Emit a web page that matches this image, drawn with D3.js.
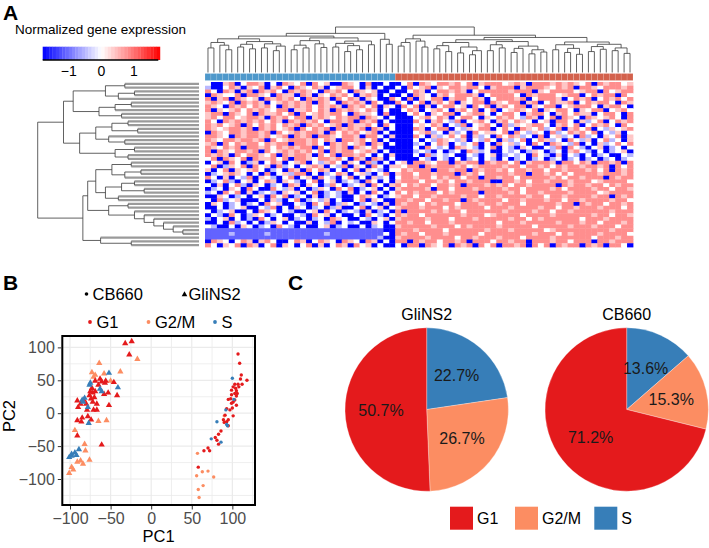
<!DOCTYPE html>
<html>
<head>
<meta charset="utf-8">
<script src="https://cdn.jsdelivr.net/npm/d3@7/dist/d3.min.js"></script>
<style>
  body { margin: 0; background: #fff; }
  text { font-family: "Liberation Sans", Arial, Helvetica, sans-serif; }
</style>
</head>
<body>
<svg id="fig" width="709" height="548"></svg>
<script>
// ---------------- data ----------------
// heatmap cells, one letter per cell (see heatLevels), left block | right block
var heatLevels = { B: -1.8, m: -1.1, b: -0.5, w: 0, p: 0.4, r: 0.8, R: 0.95 };
var heatRows = [
  "wBBprBwr rpBwBrpw rBrwpBBr pwBrBBwB | BwrBrpwr rprwrBpr rrwprpBr rrprprpw rBrprrwp",
  "bBBwrpBp wrBprwBr pwrpBwpr rwBpBwBB | wBrwprBp wrrprrwB prrrBprr rpwrprBr rpwrrrpr",
  "rwBrpBpr BrprwBrp rpwBrprw BrpwpBBw | BBwrpBwr rprpBwrr rrrprrrB pwrrrrwp rrBrwprr",
  "BrpwwrBr rpwBrppB rpBpwrpr wBprpBwB | BwBrpwBp rwrrrpBw rrrrwBrp rrrwprrB wrprrBrw",
  "rBprBrpw pBrprprw BrprpBrw rpBpwBBr | wBrBpwrr BprrwrpB wrrrprBw rrrpBwrp rBwrprwr",
  "prpwrBrp rpBwprpr prBrpwBr prpBrwBB | rwBwrBpr wrBpwrrB rpwrrBpr BwrpprBw rprrwBrp",
  "rpwBrprw rprwBrpr prwrprpB rprwrBpw | BrwrBpBw rrwpBrwr BprwrrBp wrrBwprr rwBprrwB",
  "rBpwprwr prpwrrBp prwrpBrp rpwrpBwB | BwrpBwpr wBprwrBw rBwprpwr BpwrrwBp wrrBwprw",
  "prrBrpwr BrpprwrB rwprprrw BrppwBrB | BBwrwBpw rrBwprrw BwrrwBpr rwBprwrp pBwrrwBr",
  "prwrrwpr rpBrprwr rBprpwrp rrBrpwBw | BBBwprwr pBwrrwBp wrprwbrp BwrBrpwB rpwprwBr",
  "rwBrprpr prwrpBrp rprwBrrp rBrprBwB | BBBrwBpr wbrBwprw BprwrpwB wpBrrwBp bwrBwrpr",
  "rprwprBr wrprwrpr BrprwprB rpprwBrw | BBBwpwrp BwbrBwpr wBrbpwpr rwBprwrB wrprwBrw",
  "rpwprrpr BrprwprB rwrprBrp rprBrpBw | BBBrpBwr rBwbpwrr BwrwBrpw rbwrBprw rBwbpwpr",
  "Brpwrrpr rprBrwpr prrpBrwr prwprBwB | BBBwprbw BpbwBrwp pwrBrwbp wBrbwrpr wrBwbpBw",
  "rrpwBrpr rprwprBr prBrrpwr rpBrrwBp | BBBrwBpb wrwrBpbw BrwrpbwB rBwpbwBr bwBpwrBp",
  "rpwrrprr prBrwprr rprwrpBr rprwrBwB | BBBwBwbr pwbpBwbr wBpbwrBw rpbwBrwb pBwrbwBp",
  "prBrwrpr rwrprrBr rprwBrpr wprBrpBw | BBBbwBwr pBwbwrBw BrwpbwBr wBrpwbrB wBpbwrwr",
  "rpwrprBr rprwrprp rrBrwrpr BrpwrwBB | BBBwBrwb wBrpwbBw rBwbBpwB BwbrBrwb BwpBbwBw",
  "rBrpwrrp rBrwprpr prwrBrpr rwprpBwB | BBBbwbBw BbwBrpbw BBwbwBbp wBbwBprw bBwBbwpB",
  "rprpBrwr rpwrBrpr rpBrwrBr rprwBwBp | BBBwBrbw bwBBwbBw pBbwbwBr wbBpBwbB wBbwBBwb",
  "wrBrpwrB rpprwrBr rpwrrprw BrpBrpBw | BBBBwbBw bBwBbwBw bBwBbwBb wBbwBbwB bwBbwBbw",
  "BwpBrwBb pBwrpBwp rBwbprwB pwBrbBwB | wpBrrpwr rBrprrBr prrwrBpr rrpBrrwr pBrrprBr",
  "wrBbpwrB rwpBrbwB wprpBwbr BpwBrwBp | pwrrBrpr rrprwprr rrprrwrr prwrprrp rrprBrwr",
  "pBwrBpwp rwBbwBrp BrwrpBwB wrBpwbBw | wrprrrBr rprrBrpr rprwrrpr rwrrprrr prwrBrpr",
  "BbwprpwB wBrBwpbr rBwBbwrp BwpbBwrB | prrwrrpr rrBrprwr rrrprrBr rprwrwrr rrprrrpr",
  "rwBpBwbr BpwbBwrB wpBrwbBw rBwBpbwB | wrrprrwr prrwrrBr rprrwrrr rrprwrrp rrrBrprr",
  "BbwrbBwp BwrpBpwb BwrBwpBb wbBrwBwB | prrrwrrp rwrrprrr BBrrprwr rprrrprr rwprrrrw",
  "wBpBwrbB pwBbwBrp BpwBbrwB bwpBrwBp | rwrprrwr rprBrrrp rprwrrpr rrrBrprr prrwrprr",
  "BbwBpwBr wBBrwbpB wBbpwBrw rBbwpBwB | prrrrpBr rwrrrprr rrprrwrr rrprwrrr rprrwrrp",
  "bwBrwrBp BbwbBpwp BwrBbwbB pBwBrwBw | rwrprrrw rprrrrBr rrrprwrr prrrrprr rrwprrrr",
  "BBpwBbwB wpBrwrBb wBpBbwbB BwrpwBbw | prrwrrpr rrrprrwr rprrrrpr rwrrprrr rprrBrpr",
  "wBrbwpBB BwBpbBwr BbwbpBwB BwrBpwBB | rrprrwrr prrBrprr rrwrrprr rprrwrrp rrrrprrw",
  "BpwBbwBb wBrwpBBw bBrwrBbp wBbwbBpB | rprrwrpr rrwrrrpr rprrrwrr rrrprrBr prrwrrpr",
  "BBwBbwpB BwbrBwBp wBbwBbpB BwrBwpBw | prrrprrr wrprrrrw rrrprrrr prrwrrpr rrprrrwr",
  "wBbwpBBw BrpwBwbB BwpBrwBb wbBpBbwB | rBrrrrpr prrwrrrr rrprrrrp rrwrrprr rrrrprrr",
  "BwbBrwBb pwBbwBBw bBrwpBwB BwBrwbBw | rprrwrrr rrrprrrw prrrrwrr rrprrrrr rprrwrrp",
  "bBwpBwBb BrwBwpBb wBbwBrpw BBwbBwpB | prrrrprr rwrrrprr rrrprrwr prrrrrrw rrrprrrr",
  "BBwBrbwB wBbpwBwB BpBwbrBw bwBBpwBw | rrprrwrr rprrrrrr rwrrrprr rrrprrrp rrwrrrpr",
  "wbBBwBpw BbwBrwbB wBBwpBbw BBwBbwBB | prrrrrpr rrwrprrr rprrrrrw rrrrrprr rprrrwrr",
  "mmmmmmmm mmmmmmmm mmmmmmmm mmmmmmBB | rrrprrrr wrrrrrrp rrrprrrr rwprrrrr rrrrprrr",
  "mmmmbmmm mmbmmmmm mmmmbmmm mmmmmmwB | rprrwrrr prrrrrwr rrrrrrrp rrrwrprr rrprrrrw",
  "mmmmmmmm mmmmmmmm mmmmmmmm mmmmmbBB | prrrrprr rrwrrprr rprrrwrr rrprrrrr rwrrrprr",
  "BrpwBwrp BprwBBwr pBwrpwBr pwBrpBwB | rrBrprrw rrprBrrr wrrprrBr rrprrwrr rBrrprrr",
  "rwBpwrBr pBwrBpwB wrBpBwrp BrwpBwBB | wBrrBrpw rBrprBrw rBrrprBr wrBrprrB rprBrrwB"
];
var columnGroupSizes = [32, 40];
var columnGroupColors = ["#4e98cb", "#d3614c"];

// dendrograms: "." leaf, "(...)h" merge at height h
var colTreeLeft = "((" +
  "(((..)5.4(.(..)5)6)6.6(((..)5.6(..)5.2)6.2((..)5.4((..)4.8.)5.8)6.3)6.8)7.4" +
  "((((..)5(..)5.4)6(.(..)5.5)6.3)7(((..)5.6((..)4.6(..)5)5.9)6.4(..)6.1)6.9)7.6" +
  ")8" + "(.(..)6.2)7.3" + ")8.6";
var colTreeRight = "(" +
  "(((..)5.8.)6.6(.(..)5.6)6.9)7.4" +
  "((" + "(((..)5.2(..)4.6)5.9((..)4.3((..)3.9.)4.8)5.6)6.6" +
  "(((..)4.8(..)5.4)6.1(((..)4.4.)5.3((..)4.1(..)4.5)5)5.8)6.8" + ")7.2" +
  "(((..)5((..)4.4(..)4)5.3)6.1(((..)4.6(..)5.1)5.7((..)4.8(..)4.2)5.4)6.2)6.7" +
  ")7.7" + ")8.2";
var colTree = "(" + colTreeLeft + colTreeRight + ")10";

var rowTreeTop = "(" +
  "(((..)4.6((..)4.)5)5.8(((..)4.2.)5.2(..)4.8)6.2)7.8" +
  "((((..)4.4(..)3.8)5.4(.(..)4.6)5.6)6.4((..)4(..)4.4)5.2)7.4" + ")8.4";
var rowTreeBottom = "((" +
  "(((..)4.2((..)3.6.)4.6)5.4(((..)4(..)3.4)4.8(..)5)5.8)6.4" +
  "((..)4.4(.(.(.(.(.(..)1)1.6)2.2)2.8)3.4)4)5.6" + ")6.9" +
  "(.(..)4.2)6.1" + ")7.2";
var rowTree = "(" + rowTreeTop + rowTreeBottom + ")10";

var legendTicks = [-1, 0, 1];

// PCA (PC1, PC2) per cell line and phase
var phases = ["G1", "G2/M", "S"];
var phaseColors = { "G1": "#e41a1c", "G2/M": "#fc8d62", "S": "#377eb8" };
var gliG1 = [[-32,106],[-24,109],[-27,89],[-63,52],[-56,49],[-46,47],[-69,49],[-73,38],[-69,33],[-58,29],
  [-53,31],[-42,27],[-76,27],[-74,22],[-91,19],[-87,14],[-80,14],[-72,17],[-52,12],[-90,9],
  [-71,5],[-67,5],[-78,-5],[-91,-11],[-86,-13],[-74,-10],[-91,-34],[-61,-48],[-72,31],[-75,33],
  [-65,43],[-70,24],[-57,46],[-83,20],[-67,14],[-79,5],[-85,-7],[-61,48]];
var gliG2M = [[-17,82],[-64,76],[-73,62],[-38,63],[-58,60],[-71,55],[-50,49],[-65,-12],[-55,-11],[-94,-26],
  [-82,-47],[-81,-57],[-76,-71],[-87,-72],[-84,-77],[-91,-74],[-98,-82],[-101,-91],[-69,58],[-96,-86]];
var gliS = [[-52,61],[-76,43],[-41,39],[-63,37],[-82,23],[-84,17],[-78,9],[-77,-15],[-89,-55],[-94,-60],
  [-98,-65],[-92,-64],[-101,-67],[-75,46],[-61,33],[-85,20],[-98,-62]];
var cbG1 = [[107,90],[109,76],[111,58],[118,50],[103,44],[107,44],[112,44],[101,40],[99,35],[105,34],
  [103,30],[99,28],[105,26],[95,21],[101,17],[105,12],[93,7],[101,-4],[91,-3],[89,-10],
  [93,-13],[95,-19],[86,-27],[83,-32],[79,-37],[81,-41],[83,-47],[70,-53],[72,-57],[65,-57],
  [58,-82],[99,15],[103,20],[97,5],[95,-10],[90,-14],[108,40],[110,52],[104,38],[98,22],[106,30],[100,8]];
var cbG2M = [[90,-4],[57,-61],[63,-89],[70,-88],[56,-95],[77,-97],[64,-110],[58,-116],[59,-128]];
var cbS = [[100,53],[102,21],[92,5],[81,-13],[94,-19],[74,-39],[86,-44],[93,-17]];
var pcTicks = [-100, -50, 0, 50, 100];

// pie charts: percentage per phase, clockwise from 12 o'clock (S, G2/M, G1)
var pieNames = ["GliNS2", "CB660"];
var pieS = [22.7, 13.6];
var pieG2M = [26.7, 15.3];
var pieG1 = [50.7, 71.2];

// ---------------- drawing ----------------
var svg = d3.select("#fig");

function label(txt, x, y, size, weight) {
  return svg.append("text").attr("x", x).attr("y", y)
    .attr("font-size", size).attr("font-weight", weight || "normal").text(txt);
}

// ===== A: heatmap =====
label("A", 3, 20, 21, "bold");
label("Normalized gene expression", 15, 34, 13.5);

var heatColor = d3.scaleLinear().domain([-1.8, 0, 1.8]).range(["#0000ff", "#ffffff", "#ff0000"]).clamp(true);
var legX = d3.scaleLinear().domain([-1.8, 1.75]).range([42.7, 158.3]);
var legSteps = d3.range(-1.8, 1.75, 0.1);
svg.append("g").selectAll("rect").data(legSteps).join("rect")
  .attr("x", function (d) { return legX(d); }).attr("y", 46.7)
  .attr("width", legX(0.1) - legX(0) + 0.3).attr("height", 13.3)
  .attr("fill", function (d) { return heatColor(d + 0.05); });
svg.append("line").attr("x1", 42.7).attr("x2", 158.3).attr("y1", 60).attr("y2", 60)
  .attr("stroke", "#000").attr("stroke-width", 1.4);
svg.append("g").selectAll("text").data(legendTicks).join("text")
  .attr("x", function (d) { return legX(d); }).attr("y", 76)
  .attr("text-anchor", "middle").attr("font-size", 14)
  .text(function (d) { return d < 0 ? "\u2212" + Math.abs(d) : d; });

var cells = [];
heatRows.forEach(function (row, i) {
  row.replace(/[ |]/g, "").split("").forEach(function (c, j) {
    cells.push({ row: i, col: j, v: heatLevels[c] });
  });
});
var nRows = heatRows.length, nCols = d3.sum(columnGroupSizes);
var hx = d3.scaleBand().domain(d3.range(nCols)).range([205, 633]);
var hy = d3.scaleBand().domain(d3.range(nRows)).range([82, 247]);

svg.append("g").selectAll("rect").data(cells).join("rect")
  .attr("x", function (d) { return hx(d.col); }).attr("y", function (d) { return hy(d.row); })
  .attr("width", hx.bandwidth() + 0.4).attr("height", hy.bandwidth() + 0.4)
  .attr("fill", function (d) { return heatColor(d.v); });

// column annotation bar
var colGroup = [];
columnGroupSizes.forEach(function (n, g) { for (var k = 0; k < n; k++) colGroup.push(g); });
svg.append("g").selectAll("rect").data(colGroup).join("rect")
  .attr("x", function (d, i) { return hx(i); }).attr("y", 73.5)
  .attr("width", hx.bandwidth()).attr("height", 7)
  .attr("fill", function (d) { return columnGroupColors[d]; })
  .attr("stroke", "#fff").attr("stroke-opacity", 0.35).attr("stroke-width", 0.4);

function parseTree(str) {
  var i = 0;
  function node() {
    if (str[i] === ".") { i++; return { h: 0 }; }
    i++;
    var kids = [];
    while (str[i] !== ")") kids.push(node());
    i++;
    var m = /^\d+(\.\d+)?/.exec(str.slice(i));
    i += m[0].length;
    return { h: +m[0], children: kids };
  }
  return d3.hierarchy(node());
}

function layoutTree(root, leafPos) {
  root.leaves().forEach(function (d, k) { d.pos = leafPos(k); });
  root.eachAfter(function (d) {
    if (d.children) d.pos = (d.children[0].pos + d.children[d.children.length - 1].pos) / 2;
  });
  return root;
}

// top dendrogram (columns)
var colRoot = layoutTree(parseTree(colTree), function (k) { return hx(k) + hx.bandwidth() / 2; });
var ch = d3.scaleLinear().domain([0, 10]).range([72.5, 27]);
var gTop = svg.append("g").attr("stroke", "#3a3a3a").attr("stroke-width", 0.8).attr("fill", "none");
colRoot.descendants().forEach(function (d) {
  if (d.parent) {
    gTop.append("line").attr("x1", d.pos).attr("x2", d.pos)
      .attr("y1", ch(d.data.h)).attr("y2", ch(d.parent.data.h));
  }
  if (d.children) {
    gTop.append("line").attr("x1", d.children[0].pos).attr("x2", d.children[d.children.length - 1].pos)
      .attr("y1", ch(d.data.h)).attr("y2", ch(d.data.h));
  }
});

// left dendrogram (rows)
var rowRoot = layoutTree(parseTree(rowTree), function (k) { return hy(k) + hy.bandwidth() / 2; });
var rh = d3.scaleLinear().domain([0, 10]).range([199, 37.7]);
var gLeft = svg.append("g").attr("fill", "none");
rowRoot.descendants().forEach(function (d) {
  if (d.parent) {
    gLeft.append("line").attr("y1", d.pos).attr("y2", d.pos)
      .attr("x1", rh(d.data.h)).attr("x2", rh(d.parent.data.h))
      .attr("stroke", d.children ? "#3a3a3a" : "#9a9a9a")
      .attr("stroke-width", d.children ? 0.8 : 2.3);
  }
});
rowRoot.descendants().forEach(function (d) {
  if (d.children) {
    gLeft.append("line").attr("x1", rh(d.data.h)).attr("x2", rh(d.data.h))
      .attr("y1", d.children[0].pos).attr("y2", d.children[d.children.length - 1].pos)
      .attr("stroke", "#3a3a3a").attr("stroke-width", 0.8);
  }
});

// ===== B: PCA scatter =====
label("B", 3, 290, 21, "bold");

var px = d3.scaleLinear().domain([-109.5, 127.9]).range([62.3, 255]);
var py = d3.scaleLinear().domain([-139.5, 117.3]).range([505, 336]);
var tri = d3.symbol().type(d3.symbolTriangle).size(17);

// legend
svg.append("circle").attr("cx", 86.5).attr("cy", 294).attr("r", 1.8).attr("fill", "#000");
label("CB660", 92.5, 299.5, 16.5);
svg.append("path").attr("d", d3.symbol().type(d3.symbolTriangle).size(14)())
  .attr("transform", "translate(184.5,294.5)").attr("fill", "#000");
label("GliNS2", 188.5, 299.5, 16.5);
var legPhaseX = [90, 148.5, 215];
phases.forEach(function (ph, k) {
  svg.append("circle").attr("cx", legPhaseX[k]).attr("cy", 322).attr("r", 1.9).attr("fill", phaseColors[ph]);
  label(ph, legPhaseX[k] + 6.5, 327.5, 16.5);
});

var gPlot = svg.append("g");
gPlot.append("rect").attr("x", 62.3).attr("y", 336).attr("width", 255 - 62.3).attr("height", 505 - 336)
  .attr("fill", "#fff");
var minorX = d3.range(-100, 126, 25), minorY = d3.range(-125, 117, 25);
gPlot.selectAll(".gx").data(minorX).join("line")
  .attr("x1", function (d) { return px(d); }).attr("x2", function (d) { return px(d); })
  .attr("y1", 336).attr("y2", 505)
  .attr("stroke", "#ebebeb").attr("stroke-width", function (d) { return pcTicks.indexOf(d) >= 0 ? 1.2 : 0.8; });
gPlot.selectAll(".gy").data(minorY).join("line")
  .attr("y1", function (d) { return py(d); }).attr("y2", function (d) { return py(d); })
  .attr("x1", 62.3).attr("x2", 255)
  .attr("stroke", "#ebebeb").attr("stroke-width", function (d) { return pcTicks.indexOf(d) >= 0 ? 1.2 : 0.8; });

var gliSets = { "G1": gliG1, "G2/M": gliG2M, "S": gliS };
var cbSets = { "G1": cbG1, "G2/M": cbG2M, "S": cbS };
["G2/M", "G1", "S"].forEach(function (ph) {
  gPlot.append("g").selectAll("path").data(gliSets[ph]).join("path")
    .attr("d", tri)
    .attr("transform", function (d) { return "translate(" + px(d[0]) + "," + py(d[1]) + ")"; })
    .attr("fill", phaseColors[ph]);
  gPlot.append("g").selectAll("circle").data(cbSets[ph]).join("circle")
    .attr("cx", function (d) { return px(d[0]); }).attr("cy", function (d) { return py(d[1]); })
    .attr("r", 1.7).attr("fill", phaseColors[ph]);
});

gPlot.append("rect").attr("x", 62.3).attr("y", 336).attr("width", 255 - 62.3).attr("height", 505 - 336)
  .attr("fill", "none").attr("stroke", "#000").attr("stroke-width", 2);

var xAxis = d3.axisBottom(px).tickValues(pcTicks).tickSize(3.5).tickPadding(3)
  .tickFormat(function (d) { return d < 0 ? "\u2212" + Math.abs(d) : d; });
var yAxis = d3.axisLeft(py).tickValues(pcTicks).tickSize(3.5).tickPadding(3)
  .tickFormat(function (d) { return d < 0 ? "\u2212" + Math.abs(d) : d; });
var gx = svg.append("g").attr("transform", "translate(0,506)").call(xAxis);
var gy = svg.append("g").attr("transform", "translate(61.3,0)").call(yAxis);
[gx, gy].forEach(function (g) {
  g.select(".domain").remove();
  g.selectAll(".tick line").attr("stroke", "#333").attr("stroke-width", 1);
  g.selectAll(".tick text").attr("fill", "#4d4d4d").attr("font-size", 16)
    .attr("font-family", "'Liberation Sans', Arial, sans-serif");
});

label("PC1", 158.6, 542, 16.5).attr("text-anchor", "middle");
svg.append("text").attr("transform", "translate(15,416) rotate(-90)")
  .attr("text-anchor", "middle").attr("font-size", 16.5).text("PC2");

// ===== C: pies =====
label("C", 288, 290, 21, "bold");

var pieR = 81.7;
var pieCx = [426.7, 626.7], pieCy = 409.5;
var pieGen = d3.pie().sort(null).value(function (d) { return d.v; });
var arc = d3.arc().innerRadius(0).outerRadius(pieR);
var labelArc = d3.arc().innerRadius(pieR * 0.56).outerRadius(pieR * 0.56);

pieNames.forEach(function (name, k) {
  var slices = [
    { ph: "S", v: pieS[k] },
    { ph: "G2/M", v: pieG2M[k] },
    { ph: "G1", v: pieG1[k] }
  ];
  var g = svg.append("g").attr("transform", "translate(" + pieCx[k] + "," + pieCy + ")");
  var arcs = pieGen(slices);
  g.selectAll("path").data(arcs).join("path")
    .attr("d", arc).attr("fill", function (d) { return phaseColors[d.data.ph]; })
    .attr("stroke", "#fff").attr("stroke-width", 0.3);
  g.selectAll("text").data(arcs).join("text")
    .attr("transform", function (d) { return "translate(" + labelArc.centroid(d) + ")"; })
    .attr("text-anchor", "middle").attr("dy", "0.36em")
    .attr("font-size", 16).attr("fill", "#1a1a1a")
    .text(function (d) { return d.data.v.toFixed(1) + "%"; });
  label(name, pieCx[k], 320, 16).attr("text-anchor", "middle");
});

var pieLegX = [450, 515, 594.3];
phases.forEach(function (ph, k) {
  svg.append("rect").attr("x", pieLegX[k]).attr("y", 506.7).attr("width", 23).attr("height", 23)
    .attr("fill", phaseColors[ph]);
  label(ph, pieLegX[k] + 27, 524, 16);
});
</script>
</body>
</html>
